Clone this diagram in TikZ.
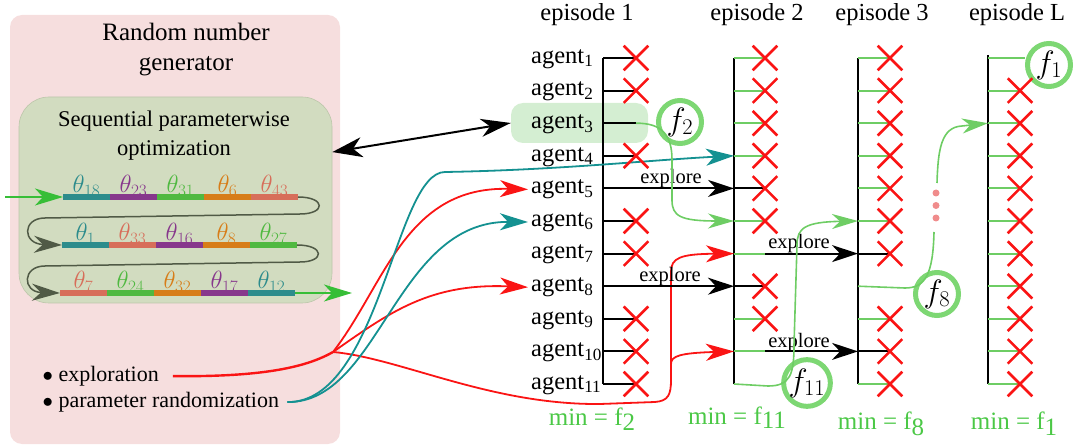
\documentclass[tikz,border=0pt]{standalone}
\usepackage{fontspec}
\setmainfont{Liberation Serif}
\usepackage{graphicx}
\newcommand*{\fsym}[1]{\scalebox{1.3}{$f_{#1}$}}
\usepackage{tikz}
\usetikzlibrary{arrows.meta}
\usetikzlibrary{shapes.misc}
\definecolor{pinkbg}{RGB}{246,222,222}
\definecolor{sagebg}{RGB}{210,220,192}
\definecolor{sageline}{RGB}{188,198,170}
\definecolor{hlgreen}{RGB}{212,238,210}
\definecolor{fgreen}{RGB}{125,215,115}
\definecolor{tgreen}{RGB}{110,205,100}
\definecolor{mingreen}{RGB}{75,200,70}
\definecolor{arrgreen}{RGB}{55,190,55}
\definecolor{xred}{RGB}{250,20,20}
\definecolor{cteal}{RGB}{20,145,145}
\definecolor{thteal}{RGB}{45,140,140}
\definecolor{thpurple}{RGB}{135,55,140}
\definecolor{thgreen}{RGB}{80,185,65}
\definecolor{thorange}{RGB}{215,125,25}
\definecolor{thsalmon}{RGB}{215,110,90}
\definecolor{loopgray}{RGB}{80,90,70}
\definecolor{dotpink}{RGB}{240,140,140}
\tikzstyle{rngbox}=[fill=pinkbg, rounded corners=12pt, minimum width=330pt, minimum height=429pt, inner sep=0pt]
\tikzstyle{spobox}=[fill=sagebg, draw=sageline, line width=0.6pt, rounded corners=30pt, minimum width=313pt, minimum height=206pt, inner sep=0pt]
\tikzstyle{hlbox}=[fill=hlgreen, rounded corners=12pt, minimum width=137pt, minimum height=40pt, inner sep=0pt]
\tikzstyle{rngtitle}=[align=center, font=\fontsize{25}{30}\selectfont]
\tikzstyle{spotitle}=[align=center, font=\fontsize{22.5}{29}\selectfont]
\tikzstyle{fnode}=[draw=fgreen, circle, line width=5pt, minimum size=43pt, inner sep=0pt, font=\fontsize{24.5}{25}\selectfont]
\tikzstyle{crossnode}=[draw=xred, cross out, line width=2.6pt, minimum size=22pt, inner sep=0pt]
\tikzstyle{agentlbl}=[anchor=west, inner sep=3pt, font=\fontsize{24.5}{26}\selectfont]
\tikzstyle{eplbl}=[font=\fontsize{24.5}{26}\selectfont]
\tikzstyle{explbl}=[inner sep=0pt, font=\fontsize{20.5}{22}\selectfont]
\tikzstyle{minlbl}=[anchor=base, text=mingreen, font=\fontsize{25}{26}\selectfont]
\tikzstyle{itemlbl}=[anchor=west, inner sep=0pt, font=\fontsize{22}{24}\selectfont]
\tikzstyle{thlbl}=[anchor=base, inner sep=0pt, font=\fontsize{24.5}{24.5}\selectfont]
\tikzstyle{dotnode}=[circle, fill=dotpink, minimum size=7pt, inner sep=0pt]
\tikzstyle{epline}=[line width=2.2pt, black]
\tikzstyle{btick}=[line width=2pt, black]
\tikzstyle{gtick}=[line width=2pt, tgreen]
\tikzstyle{gline}=[line width=1.6pt, tgreen]
\tikzstyle{thbar}=[line width=5.5pt]
\tikzstyle{blackarrow}=[-{Stealth[length=26pt, width=17pt, inset=8pt]}, line width=2pt, black]
\tikzstyle{dblarrow}=[{Stealth[length=30pt, width=20pt, inset=9pt]}-{Stealth[length=30pt, width=18pt, inset=9pt]}, line width=2pt, black]
\tikzstyle{redarrow}=[-{Stealth[length=28pt, width=17pt, inset=8pt]}, line width=1.8pt, xred]
\tikzstyle{tealarrow}=[-{Stealth[length=28pt, width=17pt, inset=8pt]}, line width=1.8pt, cteal]
\tikzstyle{greenarrow}=[-{Stealth[length=26pt, width=15pt, inset=8pt]}, line width=1.6pt, tgreen]
\tikzstyle{inarrow}=[-{Stealth[length=28pt, width=17pt, inset=8pt]}, line width=1.6pt, arrgreen]
\tikzstyle{looparrow}=[-{Stealth[length=28pt, width=17pt, inset=9pt]}, line width=1.5pt, loopgray]

\begin{document}
\begin{tikzpicture}[x=1pt, y=-1pt]
\useasboundingbox (0,0) rectangle (1074,446);

\node [rngbox] (rng) at (175,229.5) {};
\node [rngtitle] (rngtxt) at (186,50) {Random number\\generator};
\node [spobox] (spo) at (175.5,200) {};
\node [spotitle] (spotxt) at (174,135.5) {Sequential parameterwise\\optimization};

\coordinate (r1s) at (63,197);
\coordinate (r1e) at (298,197);
\coordinate (r2s) at (62,245);
\coordinate (r2e) at (297,245);
\coordinate (r3s) at (60,293);
\coordinate (r3e) at (295,293);
\coordinate (gin) at (5,197);
\coordinate (gout) at (352,293);

\foreach \c/\t [count=\k] in {thteal/18, thpurple/23, thgreen/31, thorange/6, thsalmon/43} {
  \node [thlbl, text=\c] (ta\k) at (39.5+47*\k,193) {$\theta_{\t}$};
  \draw [thbar, \c] (16+47*\k,197) -- (63+47*\k,197);
}
\foreach \c/\t [count=\k] in {thteal/1, thsalmon/33, thpurple/16, thorange/8, thgreen/27} {
  \node [thlbl, text=\c] (tb\k) at (38.5+47*\k,241) {$\theta_{\t}$};
  \draw [thbar, \c] (15+47*\k,245) -- (62+47*\k,245);
}
\foreach \c/\t [count=\k] in {thsalmon/7, thgreen/24, thorange/32, thpurple/17, thteal/12} {
  \node [thlbl, text=\c] (tc\k) at (36.5+47*\k,289) {$\theta_{\t}$};
  \draw [thbar, \c] (13+47*\k,293) -- (60+47*\k,293);
}

\draw [inarrow] (gin) -- (r1s);
\draw [looparrow] (r1e) .. controls (326,197) and (326,214) .. (300,214) -- (45,218) .. controls (22,218) and (22,244) .. (r2s);
\draw [looparrow] (r2e) .. controls (325,245) and (325,262) .. (300,262) -- (45,266) .. controls (22,266) and (22,292) .. (r3s);
\draw [inarrow] (r3e) -- (gout);

\node [itemlbl] (ex) at (42.5,376) {$\bullet$ exploration};
\node [itemlbl] (pr) at (42.5,402) {$\bullet$ parameter randomization};

\node [hlbox] (hl) at (579.5,123) {};

\foreach \i in {1,...,11} {
  \pgfmathsetmacro{\y}{58+(\i-1)*32.6}
  \coordinate (e1r\i) at (603,\y);
  \coordinate (t1r\i) at (636,\y);
  \coordinate (e2r\i) at (734,\y);
  \coordinate (t2r\i) at (765,\y);
  \coordinate (e3r\i) at (858,\y);
  \coordinate (t3r\i) at (890,\y);
  \coordinate (eLr\i) at (988,\y);
  \coordinate (tLr\i) at (1020,\y);
  \node [agentlbl] (a\i) at (528,\y+1) {agent\textsubscript{\i}};
}
\coordinate (eLtop) at (988,55);

\node [eplbl] (ep1) at (587,15) {episode 1};
\node [eplbl] (ep2) at (757,15) {episode 2};
\node [eplbl] (ep3) at (882,15) {episode 3};
\node [eplbl] (epL) at (1017,15) {episode L};

\draw [epline] (e1r1) -- (e1r11);
\draw [epline] (e2r1) -- (e2r11);
\draw [epline] (e3r1) -- (e3r11);
\draw [epline] (eLtop) -- (eLr11);

\draw [dblarrow] (spo.17) -- (hl.west);

\node [fnode] (f2) at (680,122) {\fsym{2}};
\node [fnode] (f11) at (807,383) {\fsym{11}};
\node [fnode] (f8) at (937,294) {\fsym{8}};
\node [fnode] (f1) at (1049,65) {\fsym{1}};

\coordinate (hub) at (333,352);
\coordinate (rv) at (671,364);
\draw [xred, line width=2.4pt, shorten <=14pt] (ex.east) .. controls (260,377) and (305,368) .. (hub);
\draw [redarrow] (hub) .. controls (385,285) and (405,186) .. (a5.west);
\draw [redarrow] (hub) .. controls (390,312) and (430,283) .. (a8.west);
\draw [xred, line width=1.8pt] (hub) .. controls (400,358) and (490,405) .. (600,404) -- (655,402) .. controls (668,401) and (671,395) .. (671,380) -- (rv);
\draw [redarrow] (rv) -- (671,272) .. controls (671,258) and (680,254) .. (e2r7);
\draw [redarrow] (rv) .. controls (671,356) and (680,353) .. (e2r10);

\draw [tealarrow, shorten <=8pt] (pr.east) .. controls (380,403) and (395,172) .. (445,172) .. controls (560,170) and (650,160) .. (e2r4);
\draw [tealarrow, shorten <=8pt] (pr.east) .. controls (380,403) and (395,221) .. (a6.west);

\foreach \i in {1,2,3,4,6,7,9,10,11} \draw [btick] (e1r\i) -- (t1r\i);
\foreach \i in {1,2,4,6,7,9,10,11} \node [crossnode] (x1r\i) at (t1r\i) {};
\draw [blackarrow] (e1r5) -- (e2r5);
\draw [blackarrow] (e1r8) -- (e2r8);
\node [explbl] (xp1) at (671,178.4) {explore};
\node [explbl] (xp2) at (670,276.2) {explore};
\draw [greenarrow] (t1r3) .. controls (662,123) and (672,135) .. (672,160) -- (672,200) .. controls (672,216) and (680,221) .. (e2r6);

\foreach \i in {1,2,3,4,6,7,9,10} \draw [gtick] (e2r\i) -- (t2r\i);
\foreach \i in {5,8} \draw [btick] (e2r\i) -- (t2r\i);
\foreach \i in {1,...,6,8,9} \node [crossnode] (x2r\i) at (t2r\i) {};
\draw [blackarrow] (t2r7) -- (e3r7);
\draw [blackarrow] (t2r10) -- (e3r10);
\node [explbl] (xp3) at (799,243.6) {explore};
\node [explbl] (xp4) at (799,342.4) {explore};
\draw [greenarrow] (e2r11) -- (768,386) .. controls (790,386) and (794,375) .. (794,345) -- (797,245) .. controls (797,228) and (805,222) .. (e3r6);

\foreach \i in {1,...,6,9,11} \draw [gtick] (e3r\i) -- (t3r\i);
\foreach \i in {7,10} \draw [btick] (e3r\i) -- (t3r\i);
\foreach \i in {1,...,7,9,10,11} \node [crossnode] (x3r\i) at (t3r\i) {};
\coordinate (g8a) at (934,232);
\coordinate (g8b) at (937,183);
\draw [gline] (e3r8) -- (905,288) .. controls (925,288) and (933,275) .. (g8a);
\node [dotnode] (dot1) at (936,193) {};
\node [dotnode] (dot2) at (936,205.5) {};
\node [dotnode] (dot3) at (936,218) {};
\draw [greenarrow] (g8b) .. controls (938,150) and (941,127) .. (962,126) -- (eLr3);

\draw [gtick] (eLr1) -- (f1.west |- eLr1);
\foreach \i in {2,...,11} \draw [gtick] (eLr\i) -- (tLr\i);
\foreach \i in {2,...,11} \node [crossnode] (xLr\i) at (tLr\i) {};

\node [minlbl] (min1) at (592,425) {min = f\raisebox{-5pt}{2}};
\node [minlbl] (min2) at (737,424) {min = f\raisebox{-5pt}{11}};
\node [minlbl] (min3) at (881,429) {min = f\raisebox{-6pt}{8}};
\node [minlbl] (minL) at (1014,429) {min = f\raisebox{-6pt}{1}};
\end{tikzpicture}
\end{document}
